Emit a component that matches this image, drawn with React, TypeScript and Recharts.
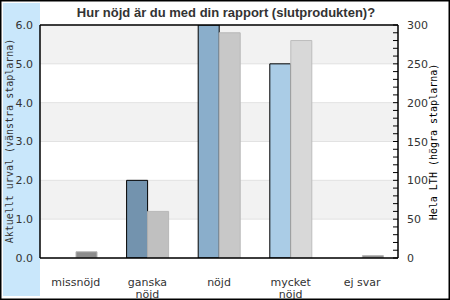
import React from 'react';
import { BarChart, Bar, XAxis, YAxis, CartesianGrid, Cell, ReferenceLine } from 'recharts';

const categories = ['missnöjd', 'ganska\nnöjd', 'nöjd', 'mycket\nnöjd', 'ej svar'];
const currentSelection = [0, 2, 6, 5, 0];
const wholeLTH = [8, 60, 290, 280, 3];
const leftTicks = [0, 1, 2, 3, 4, 5, 6];
const rightTicks = [0, 10, 20, 30, 40, 50, 60, 70, 80, 90, 100, 110, 120, 130, 140, 150, 160, 170, 180, 190, 200, 210, 220, 230, 240, 250, 260, 270, 280, 290, 300];
const rightLabelTicks = [0, 50, 100, 150, 200, 250, 300];

const leftColors = ['#7393ae', '#7393ae', '#8aaecb', '#aacce6', '#7393ae'];
const rightColors = ['#8c8c8c', '#c0c0c0', '#c8c8c8', '#d8d8d8', '#8c8c8c'];
const rightStrokes = ['#b4b4b4', '#b8b8b8', '#b8b8b8', '#bcbcbc', '#b4b4b4'];

const data = categories.map((c, i) => ({ name: c, left: currentSelection[i], right: wholeLTH[i] }));

const FONT = '"DejaVu Sans", sans-serif';
const MONO = '"DejaVu Sans Mono", monospace';

const XTick = (props: any) => {
  const { x, y, payload } = props;
  const words = String(payload.value).split('\n');
  return (
    <text x={x} y={y} textAnchor="middle" fontFamily={FONT} fontSize={11} fill="#333">
      {words.map((w: string, i: number) => (
        <tspan key={i} x={x} dy={i === 0 ? 20 : 12}>{w}</tspan>
      ))}
    </text>
  );
};

const RightTick = (props: any) => {
  const { x, y, payload } = props;
  const showLabel = rightLabelTicks.includes(payload.value);
  return (
    <g>
      <line x1={x - 5} x2={x} y1={y} y2={y} stroke="#000" strokeWidth={1} />
      {showLabel && (
        <text x={x + 9} y={y} dy={4} textAnchor="start" fontFamily={FONT} fontSize={11} fill="#333">
          {payload.value}
        </text>
      )}
    </g>
  );
};

export default function App() {
  return (
    <div style={{ position: 'absolute', left: 0, top: 0, width: 450, height: 300, background: '#fff', overflow: 'hidden' }}>
      <div style={{ position: 'absolute', left: 3, top: 3, width: 37, height: 293, background: '#c9e7fb' }} />
      <div style={{ position: 'absolute', left: 0, top: 0 }}>
        <BarChart
          width={450}
          height={300}
          data={data}
          margin={{ top: 25, right: 0, bottom: 0, left: 0 }}
          barSize={21}
          barGap={0}
        >
          <CartesianGrid
            vertical={false}
            yAxisId="left"
            stroke="#e2e2e2"
            horizontalFill={['#f2f2f2', '#ffffff']}
            fillOpacity={1}
          />
          <XAxis
            dataKey="name"
            height={42}
            axisLine={{ stroke: '#000', strokeWidth: 1.5 }}
            tickLine={false}
            tick={<XTick />}
            interval={0}
          />
          <YAxis
            yAxisId="left"
            orientation="left"
            width={40}
            domain={[0, 6]}
            ticks={leftTicks}
            allowDataOverflow
            tickFormatter={(v: number) => v.toFixed(1)}
            axisLine={{ stroke: '#000', strokeWidth: 1.5 }}
            tickLine={false}
            tickSize={0}
            tickMargin={7}
            tick={{ fontFamily: FONT, fontSize: 11, fill: '#333' }}
          />
          <YAxis
            yAxisId="right"
            orientation="right"
            width={52}
            domain={[0, 300]}
            ticks={rightTicks}
            interval={0}
            allowDataOverflow
            axisLine={{ stroke: '#000', strokeWidth: 1.5 }}
            tickLine={false}
            tickSize={0}
            tickMargin={0}
            tick={<RightTick />}
          />
          <ReferenceLine yAxisId="left" y={6} stroke="#000" strokeWidth={1.5} />
          <Bar dataKey="left" yAxisId="left" isAnimationActive={false} stroke="#000" strokeWidth={1}>
            {data.map((d, i) => (
              <Cell key={i} fill={leftColors[i]} />
            ))}
          </Bar>
          <Bar dataKey="right" yAxisId="right" isAnimationActive={false} strokeWidth={1}>
            {data.map((d, i) => (
              <Cell key={i} fill={rightColors[i]} stroke={rightStrokes[i]} />
            ))}
          </Bar>
        </BarChart>
      </div>
      <svg width={450} height={300} style={{ position: 'absolute', left: 0, top: 0, pointerEvents: 'none' }}>
        <text x={226} y={17} textAnchor="middle" fontFamily='"Liberation Sans", Arial, sans-serif' fontWeight="bold" fontSize={13} fill="#333">
          Hur nöjd är du med din rapport (slutprodukten)?
        </text>
        <text x={0} y={0} transform="translate(13,141) rotate(-90)" textAnchor="middle" fontFamily={MONO} fontSize={10} fill="#333">
          Aktuellt urval (vänstra staplarna)
        </text>
        <text x={0} y={0} transform="translate(437,142) rotate(-90)" textAnchor="middle" fontFamily={MONO} fontSize={10} fill="#000">
          Hela LTH (högra staplarna)
        </text>
        <rect x={0.75} y={0.75} width={448.5} height={298.5} fill="none" stroke="#000" strokeWidth={1.5} />
      </svg>
    </div>
  );
}
